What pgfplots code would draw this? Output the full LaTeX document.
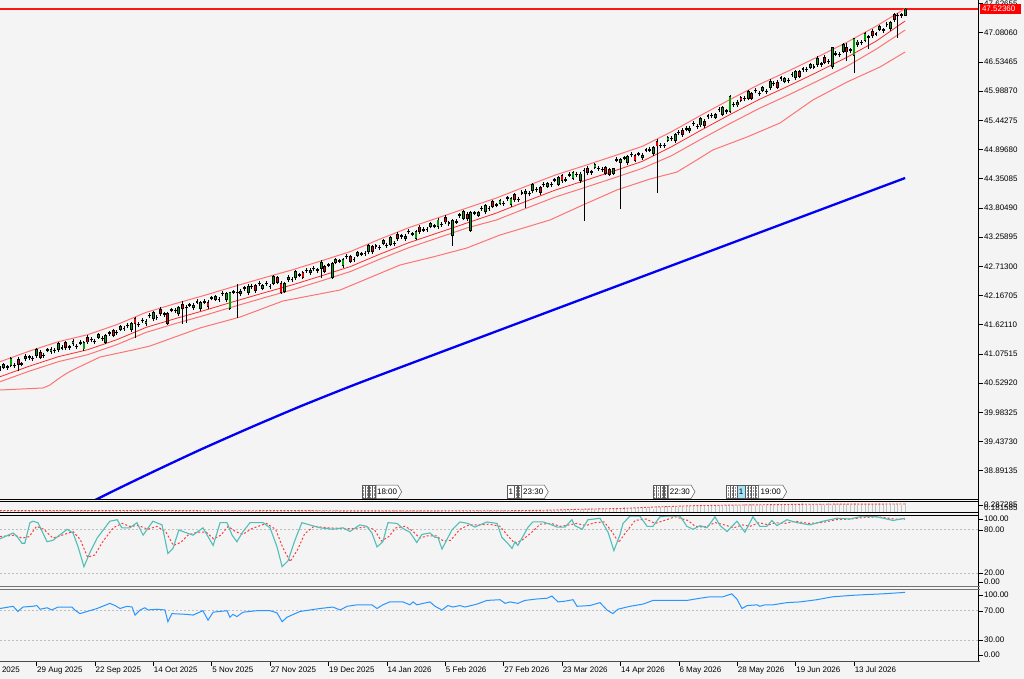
\documentclass[border=0pt]{standalone}
\usepackage{pgfplots}
\pgfplotsset{compat=1.18}
\usepackage{pgfplotstable}
\usepackage{fontspec}
\setmainfont{Liberation Sans}
\newcommand{\lbl}{\fontsize{8bp}{9bp}\selectfont}
\definecolor{bg}{RGB}{244,244,244}
\definecolor{cgreen}{RGB}{0,160,0}
\definecolor{cred}{RGB}{230,0,0}
\definecolor{band}{RGB}{255,40,40}
\definecolor{bandl}{RGB}{255,115,115}
\definecolor{mablue}{RGB}{0,0,245}
\definecolor{stkc}{RGB}{80,190,185}
\definecolor{sigc}{RGB}{255,60,60}
\definecolor{rsic}{RGB}{40,150,255}
\definecolor{lev}{RGB}{190,190,190}
\definecolor{hist}{RGB}{195,195,195}
\definecolor{pricered}{RGB}{255,20,20}

\pgfplotstableread{
i o h l c a
0 40.793 40.843 40.753 40.803 .190
1 40.828 40.913 40.793 40.878 .196
2 40.822 40.872 40.782 40.832 .186
3 40.862 41.012 40.822 40.982 .198
4 40.851 40.901 40.811 40.861 .183
5 40.976 41.011 40.760 40.886 .193
6 40.881 40.931 40.841 40.891 .188
7 40.985 41.070 40.950 41.035 .190
8 41.010 41.060 40.970 41.020 .196
9 40.984 41.034 40.944 40.994 .186
10 41.044 41.194 41.004 41.164 .198
11 41.104 41.139 40.979 41.014 .183
12 41.038 41.088 40.998 41.048 .193
13 41.143 41.193 41.103 41.153 .188
14 41.115 41.200 41.080 41.165 .190
15 41.131 41.181 41.091 41.141 .196
16 41.153 41.303 41.113 41.273 .186
17 41.184 41.234 41.144 41.194 .198
18 41.280 41.315 41.155 41.190 .183
19 41.197 41.247 41.157 41.207 .193
20 41.263 41.348 41.228 41.313 .188
21 41.209 41.259 41.169 41.219 .190
22 41.276 41.326 41.236 41.286 .196
23 41.167 41.317 41.127 41.287 .186
24 41.388 41.423 41.263 41.298 .198
25 41.335 41.385 41.295 41.345 .183
26 41.301 41.351 41.261 41.311 .193
27 41.388 41.473 41.353 41.438 .188
28 41.361 41.411 41.321 41.371 .190
29 41.295 41.445 41.255 41.415 .196
30 41.459 41.509 41.419 41.469 .186
31 41.507 41.542 41.382 41.417 .198
32 41.466 41.516 41.426 41.476 .183
33 41.535 41.620 41.500 41.585 .193
34 41.543 41.593 41.503 41.553 .188
35 41.602 41.652 41.562 41.612 .190
36 41.526 41.676 41.486 41.646 .196
37 41.729 41.764 41.380 41.639 .186
38 41.618 41.668 41.578 41.628 .198
39 41.697 41.747 41.657 41.707 .183
40 41.635 41.720 41.600 41.685 .193
41 41.784 41.834 41.744 41.794 .188
42 41.729 41.879 41.689 41.849 .190
43 41.753 41.803 41.713 41.763 .196
44 41.913 41.948 41.788 41.823 .186
45 41.812 41.862 41.772 41.822 .198
46 41.830 41.860 41.620 41.650 .183
47 41.890 41.940 41.850 41.900 .193
48 41.879 41.929 41.839 41.889 .188
49 41.823 41.973 41.783 41.943 .190
50 42.007 42.070 41.640 41.917 .196
51 41.936 41.986 41.660 41.946 .186
52 41.985 42.035 41.945 41.995 .198
53 41.934 42.019 41.899 41.984 .183
54 42.044 42.094 42.004 42.054 .193
55 41.918 42.068 41.878 42.038 .188
56 42.043 42.093 42.003 42.053 .190
57 42.044 42.079 41.919 41.954 .196
58 42.114 42.164 42.074 42.124 .186
59 42.095 42.180 42.060 42.145 .198
60 42.085 42.135 42.045 42.095 .183
61 42.196 42.246 42.156 42.206 .193
62 42.091 42.241 42.051 42.211 .188
63 41.930 42.240 41.900 42.220 .190
64 42.227 42.277 42.187 42.237 .196
65 42.217 42.390 41.750 42.227 .186
66 42.198 42.283 42.163 42.248 .198
67 42.298 42.348 42.258 42.308 .183
68 42.224 42.374 42.184 42.344 .193
69 42.329 42.379 42.289 42.339 .188
70 42.348 42.383 42.223 42.258 .190
71 42.387 42.437 42.347 42.397 .196
72 42.296 42.381 42.261 42.346 .186
73 42.385 42.435 42.345 42.395 .198
74 42.334 42.384 42.294 42.344 .183
75 42.398 42.548 42.358 42.518 .193
76 42.502 42.537 42.377 42.412 .188
77 42.400 42.430 42.200 42.230 .190
78 42.240 42.420 42.220 42.390 .196
79 42.460 42.545 42.425 42.510 .186
80 42.459 42.509 42.419 42.469 .198
81 42.503 42.653 42.463 42.623 .183
82 42.547 42.597 42.507 42.557 .193
83 42.598 42.633 42.473 42.508 .188
84 42.630 42.680 42.590 42.640 .190
85 42.592 42.677 42.557 42.642 .196
86 42.664 42.714 42.624 42.674 .186
87 42.636 42.686 42.596 42.646 .198
88 42.673 42.823 42.500 42.793 .183
89 42.709 42.744 42.584 42.619 .193
90 42.731 42.781 42.691 42.741 .188
91 42.500 42.790 42.470 42.760 .190
92 42.785 42.870 42.750 42.835 .196
93 42.807 42.857 42.767 42.817 .186
94 42.723 42.873 42.683 42.843 .198
95 42.890 42.940 42.850 42.900 .183
96 42.893 42.928 42.768 42.803 .193
97 42.832 42.882 42.792 42.842 .188
98 42.920 43.005 42.885 42.970 .190
99 42.939 42.989 42.899 42.949 .196
100 42.948 42.998 42.908 42.958 .186
101 42.982 43.132 42.942 43.102 .198
102 43.075 43.110 42.950 42.985 .183
103 43.084 43.134 43.044 43.094 .193
104 43.063 43.113 43.023 43.073 .188
105 43.141 43.226 43.106 43.191 .190
106 43.100 43.150 43.060 43.110 .196
107 43.124 43.274 43.084 43.244 .186
108 43.137 43.187 43.097 43.147 .198
109 43.316 43.351 43.191 43.226 .183
110 43.272 43.322 43.232 43.282 .193
111 43.225 43.310 43.190 43.275 .188
112 43.359 43.409 43.319 43.369 .190
113 43.312 43.362 43.272 43.322 .196
114 43.240 43.390 43.200 43.360 .186
115 43.448 43.483 43.323 43.358 .198
116 43.391 43.441 43.351 43.401 .183
117 43.395 43.445 43.355 43.405 .193
118 43.458 43.543 43.423 43.508 .188
119 43.461 43.511 43.421 43.471 .190
120 43.459 43.609 43.419 43.579 .196
121 43.487 43.537 43.447 43.497 .186
122 43.631 43.666 43.506 43.541 .198
123 43.514 43.564 43.474 43.524 .183
124 43.290 43.600 43.100 43.570 .193
125 43.540 43.590 43.500 43.550 .188
126 43.663 43.713 43.623 43.673 .190
127 43.611 43.761 43.571 43.731 .196
128 43.689 43.724 43.564 43.599 .186
129 43.380 43.740 43.360 43.720 .198
130 43.706 43.756 43.666 43.716 .183
131 43.669 43.754 43.634 43.719 .193
132 43.792 43.842 43.752 43.802 .188
133 43.730 43.880 43.690 43.850 .190
134 43.788 43.838 43.748 43.798 .196
135 43.921 43.956 43.796 43.831 .186
136 43.854 43.904 43.814 43.864 .198
137 43.888 43.973 43.853 43.938 .183
138 43.885 43.935 43.845 43.895 .193
139 43.983 44.033 43.943 43.993 .188
140 43.865 44.015 43.825 43.985 .192
141 44.047 44.082 43.922 43.957 .198
142 43.955 44.005 43.915 43.965 .188
143 44.082 44.132 44.042 44.092 .200
144 44.069 44.154 43.810 44.119 .185
145 44.066 44.116 44.026 44.076 .195
146 44.129 44.279 44.089 44.249 .190
147 44.141 44.191 44.101 44.151 .192
148 44.178 44.213 44.053 44.088 .198
149 44.236 44.286 44.196 44.246 .188
150 44.213 44.298 44.178 44.263 .205
151 44.239 44.289 44.199 44.249 .190
152 44.320 44.370 44.280 44.330 .200
153 44.247 44.397 44.207 44.367 .195
154 44.404 44.439 44.279 44.314 .197
155 44.326 44.376 44.286 44.336 .203
156 44.418 44.468 44.378 44.428 .193
157 44.350 44.490 44.330 44.460 .205
158 44.422 44.472 44.382 44.432 .190
159 44.319 44.469 44.279 44.439 .200
160 44.496 44.546 43.566 44.506 .206
161 44.548 44.583 44.423 44.458 .208
162 44.469 44.519 44.429 44.479 .214
163 44.561 44.646 44.526 44.611 .204
164 44.533 44.583 44.493 44.543 .216
165 44.516 44.566 44.476 44.526 .201
166 44.560 44.590 44.420 44.450 .211
167 44.520 44.560 44.400 44.430 .206
168 44.450 44.560 44.420 44.540 .208
169 44.698 44.748 44.658 44.708 .214
170 44.661 44.746 43.790 44.711 .215
171 44.734 44.784 44.694 44.744 .227
172 44.653 44.803 44.613 44.773 .212
173 44.801 44.851 44.761 44.811 .222
174 44.784 44.819 44.659 44.694 .217
175 44.807 44.857 44.767 44.817 .219
176 44.740 44.825 44.705 44.790 .225
177 44.883 44.933 44.843 44.893 .215
178 44.886 44.936 44.846 44.896 .227
179 44.818 44.968 44.778 44.938 .212
180 45.052 45.087 44.090 44.962 .236
181 44.970 45.020 44.930 44.980 .231
182 44.968 45.018 44.928 44.978 .233
183 45.066 45.151 45.031 45.116 .239
184 45.094 45.144 45.054 45.104 .229
185 45.058 45.208 45.018 45.178 .241
186 45.211 45.261 45.171 45.221 .226
187 45.259 45.294 45.134 45.169 .236
188 45.277 45.327 45.237 45.287 .231
189 45.245 45.330 45.210 45.295 .233
190 45.374 45.424 45.334 45.384 .248
191 45.322 45.372 45.282 45.332 .238
192 45.355 45.505 45.315 45.475 .250
193 45.427 45.462 45.302 45.337 .235
194 45.514 45.564 45.474 45.524 .245
195 45.531 45.581 45.491 45.541 .240
196 45.497 45.582 45.462 45.547 .242
197 45.644 45.694 45.604 45.654 .248
198 45.556 45.706 45.516 45.676 .238
199 45.608 45.658 45.568 45.618 .250
200 45.610 45.910 45.580 45.890 .240
201 45.732 45.782 45.692 45.742 .250
202 45.729 45.814 45.694 45.779 .245
203 45.870 45.900 45.780 45.820 .247
204 45.843 45.893 45.803 45.853 .253
205 45.854 46.004 45.814 45.974 .243
206 45.944 45.979 45.819 45.854 .255
207 45.995 46.045 45.955 46.005 .240
208 45.937 45.987 45.897 45.947 .250
209 45.998 46.083 45.963 46.048 .245
210 45.980 46.030 45.940 45.990 .251
211 46.056 46.206 46.016 46.176 .257
212 46.123 46.173 46.083 46.133 .247
213 46.154 46.189 46.029 46.064 .259
214 46.225 46.275 46.185 46.235 .244
215 46.167 46.252 46.132 46.217 .254
216 46.178 46.228 46.138 46.188 .249
217 46.290 46.340 46.250 46.300 .251
218 46.236 46.386 46.196 46.356 .257
219 46.352 46.387 46.227 46.262 .247
220 46.395 46.445 46.355 46.405 .263
221 46.389 46.439 46.349 46.399 .248
222 46.433 46.518 46.398 46.483 .258
223 46.437 46.487 46.397 46.447 .253
224 46.486 46.636 46.446 46.606 .255
225 46.486 46.536 46.446 46.496 .261
226 46.620 46.655 46.495 46.530 .251
227 46.534 46.584 46.494 46.544 .263
228 46.440 46.820 46.410 46.800 .248
229 46.682 46.732 46.642 46.692 .258
230 46.666 46.716 46.626 46.676 .253
231 46.735 46.885 46.695 46.855 .255
232 46.800 46.880 46.560 46.720 .261
233 46.749 46.799 46.709 46.759 .251
234 46.650 46.990 46.330 46.970 .263
235 46.857 46.942 46.822 46.907 .248
236 46.895 46.945 46.855 46.905 .258
237 46.939 47.089 46.899 47.059 .253
238 46.993 47.043 46.780 47.003 .255
239 47.112 47.147 46.987 47.022 .261
240 47.051 47.101 47.011 47.061 .251
241 47.139 47.224 47.104 47.189 .263
242 47.122 47.172 47.082 47.132 .248
243 47.226 47.276 47.186 47.236 .258
244 47.155 47.305 47.115 47.275 .253
245 47.414 47.449 47.289 47.324 .255
246 47.399 47.449 46.990 47.409 .261
247 47.403 47.453 47.363 47.413 .251
248 47.410 47.545 47.390 47.524 .263
}\candles

\pgfplotstableread{
i u a b
0 40.929 40.648 40.555
8 41.126 40.845 40.752
16 41.304 41.023 40.930
24 41.434 41.153 41.060
32 41.622 41.341 41.248
40 41.851 41.570 41.477
48 42.015 41.734 41.641
56 42.169 41.888 41.795
64 42.333 42.052 41.959
72 42.492 42.211 42.118
80 42.645 42.364 42.271
88 42.814 42.533 42.440
96 42.989 42.708 42.615
104 43.219 42.938 42.845
112 43.435 43.154 43.061
120 43.620 43.339 43.246
128 43.805 43.524 43.431
136 43.990 43.709 43.579
144 44.205 43.924 43.794
152 44.416 44.135 44.005
160 44.592 44.311 44.181
168 44.771 44.490 44.360
176 44.956 44.675 44.545
184 45.230 44.949 44.781
192 45.536 45.255 45.087
200 45.831 45.550 45.382
208 46.113 45.832 45.664
216 46.364 46.083 45.915
224 46.627 46.346 46.178
232 46.900 46.619 46.451
240 47.200 46.920 46.770
248 47.530 47.300 47.130
}\bandt

\pgfplotstableread{
i v
0 40.400
11.8 40.438
13.7 40.494
15.9 40.606
18.4 40.718
21.1 40.812
27.4 41.017
36.4 41.148
41.1 41.223
54.8 41.560
65.8 41.765
77.5 42.064
93.2 42.270
109.6 42.737
118.6 42.887
127.9 43.055
137.0 43.298
150.7 43.579
159.7 43.859
169.0 44.140
178.1 44.345
185.5 44.476
191.8 44.738
195.3 44.888
204.7 45.131
213.7 45.392
222.7 45.822
232.1 46.159
241.1 46.439
248.0 46.720
}\lowt

\pgfplotstableread{
i v
0 37.416
26.5 38.357
41.1 38.843
54.8 39.281
68.5 39.695
82.2 40.092
95.9 40.466
109.6 40.821
173.4 42.455
248.0 44.364
}\bluet

\pgfplotstableread{
i v
0 67
3.6 75
4.7 70
6.0 61
6.8 61
8.2 89
9.0 91
10.4 89
12.9 63
14.5 65
18.4 80
20.0 75
21.4 56
23.0 29
24.7 49
26.6 68
30.1 91
32.1 93
33.4 82
35.6 82
37.5 89
39.2 72
41.9 91
44.4 86
46.0 47
47.4 54
49.0 79
51.2 75
52.9 72
55.6 82
57.0 70
58.4 58
60.3 89
62.2 89
63.6 72
64.9 63
66.6 77
68.5 89
72.1 89
74.0 82
75.9 56
77.3 29
78.9 37
80.8 65
82.7 89
87.7 82
91.2 80
94.0 82
95.9 77
98.6 86
100.5 84
101.9 75
103.3 56
104.9 63
106.3 89
108.8 88
110.4 81
112.3 76
114.2 62
115.6 73
117.8 75
119.2 69
120.0 69
121.1 53
123.8 79
126.0 90
128.2 88
130.1 83
133.4 90
136.2 88
137.5 69
138.9 62
140.3 54
141.1 63
141.9 58
144.7 83
146.0 90
148.8 90
150.7 87
152.6 83
154.8 83
156.7 93
157.5 85
159.5 80
161.1 93
164.4 95
166.6 76
168.2 51
169.9 73
170.7 88
172.6 98
175.3 98
177.3 84
178.9 84
180.8 97
182.7 98
186.3 98
188.2 84
189.9 80
191.8 85
193.7 82
195.9 97
197.3 85
199.2 77
201.9 91
204.1 76
206.3 97
208.2 84
210.1 84
211.5 92
212.9 85
215.6 93
218.4 89
221.9 86
225.5 91
229.3 95
232.9 94
236.4 98
240.3 97
244.7 92
247.9 95
}\stkt

\pgfplotstableread{
i v
0 70
4 72
6 68
8 70
10 84
12 80
14.5 68
17 72
20 77
22 66
24 42
26 45
28 62
31 82
33.5 88
35.5 84
38 85
40.5 80
43 84
45.5 76
47.5 58
49.5 62
51.5 72
54 76
56.5 76
58.5 67
60.5 72
62.5 84
64.5 77
66.5 73
69 81
73 88
75.5 80
77.5 55
79.5 36
81.5 52
83.5 74
86 84
90 82
94 81
97 81
100 83
102.5 80
104.5 64
106.5 70
108.5 82
111 84
113 78
115 68
117 71
119.5 71
121.5 64
123.5 65
126 80
128.5 86
131 86
134 87
137 84
139 72
141 61
143 65
145.5 75
148 87
151 88
153.5 84
156 86
158 88
160.5 85
163 89
165.5 90
167.5 78
169.5 62
171.5 76
174 92
177 94
179.5 88
182 92
185 97
188.5 92
190.5 84
193 83
196 89
198.5 86
201 82
203.5 86
205.5 84
208 89
210.5 86
212.5 89
215 88
218 91
221.5 88
225 89
229 93
233 94
236.5 96
240.5 97
245 94
248 94
}\stdt

\pgfplotstableread{
i v
0 73
3.6 76
4.9 69
6.3 75
9.0 76
10.1 77
11.0 72
12.9 74
14.2 71
15.9 75
19.7 75
20.5 71
21.9 66
26.6 73
30.1 80
31.5 77
32.9 73
34.8 76
36.2 75
37.0 64
38.4 71
39.7 74
40.5 71
43.0 72
45.2 71
46.0 55
47.1 66
51.2 65
52.9 64
55.6 70
57.0 57
58.4 68
62.2 70
63.0 61
63.8 65
64.9 62
66.6 68
70.4 70
74.0 70
75.9 67
77.3 55
78.6 61
82.2 69
87.7 73
91.2 75
93.2 71
95.1 76
97.8 78
101.9 78
103.3 73
104.9 78
106.8 82
110.4 82
112.3 78
113.2 82
114.2 78
117.8 82
119.2 76
121.1 71
122.7 77
124.1 75
126.0 77
127.4 75
130.7 79
133.4 84
137.0 85
138.4 80
139.7 82
141.9 80
143.8 84
147.1 86
149.9 87
151.2 90
152.9 82
154.8 83
157.0 85
158.1 76
161.6 77
164.4 81
166.3 71
167.9 66
169.3 72
172.6 76
176.2 79
178.9 84
182.7 84
188.2 84
191.8 87
194.5 89
198.1 89
200.5 93
201.9 86
203.3 73
204.7 77
207.4 78
208.2 76
209.6 78
211.8 78
215.6 81
219.2 82
223.8 85
228.2 89
233.7 91
237.5 92
241.9 93
248.0 95
}\rsit

\pgfplotstableread{
i v
0 .192
20 .190
40 .193
60 .189
80 .191
100 .188
120 .189
140 .190
150 .195
160 .205
170 .212
180 .228
190 .240
200 .246
210 .250
220 .254
235 .256
248 .257
}\atrt

\pgfplotstableread{
i v
0 47.5236
268.1 47.5236
}\pricet

\pgfplotsset{panel/.style={anchor=north west, scale only axis, width=978.5bp,
  xmin=0, xmax=268.1, axis line style={draw=none}, xtick=\empty,
  ytick pos=right, tick align=outside, major tick length=4bp,
  tick style={black, line width=0.6bp},
  yticklabel style={font=\lbl, anchor=west, inner sep=0pt, xshift=1.5bp},
  /pgf/number format/assume math mode=true}}

\begin{document}
\begin{tikzpicture}
\useasboundingbox (0,0) rectangle (1024bp,-679bp);
\fill[bg] (0,0) rectangle (1024bp,-679bp);

% main price panel
\begin{axis}[panel, at={(0bp,0bp)}, height=499.3bp, ymin=38.3566, ymax=47.692,
  ytick={47.62655,47.08060,46.53465,45.98870,45.44275,44.89680,44.35085,43.80490,43.25895,42.71300,42.16705,41.62110,41.07515,40.52920,39.98325,39.43730,38.89135},
  yticklabels={47.62655,47.08060,46.53465,45.98870,45.44275,44.89680,44.35085,43.80490,43.25895,42.71300,42.16705,41.62110,41.07515,40.52920,39.98325,39.43730,38.89135}]
\addplot[pricered, line width=1.1bp, mark=none] table[x=i,y=v]{\pricet};
\addplot[mablue, line width=2.3bp, smooth, tension=0.4] table[x=i,y=v]{\bluet};
\addplot[bandl, line width=1bp] table[x=i,y=v]{\lowt};
\addplot[bandl, line width=1bp] table[x=i,y=b]{\bandt};
\addplot[band, line width=0.8bp] table[x=i,y=a]{\bandt};
\addplot[bandl, line width=1bp] table[x=i,y=u]{\bandt};
\addplot[draw=none, mark=none, error bars/.cd, y dir=plus, y explicit, error mark=none,
  error bar style={draw=black, line width=0.9bp}]
  table[x=i, y=l, y error expr=\thisrow{h}-\thisrow{l}]{\candles};
\addplot[draw=none, mark=none, error bars/.cd, y dir=plus, y explicit, error mark=none,
  error bar style={draw=black, line width=2.8bp}]
  table[x=i, y expr={min(\thisrow{o},\thisrow{c})-0.009}, y error expr={abs(\thisrow{c}-\thisrow{o})+0.018}]{\candles};
\addplot[draw=none, mark=none, restrict expr to domain={\thisrow{c}-\thisrow{o}}{0.03:10},
  error bars/.cd, y dir=plus, y explicit, error mark=none,
  error bar style={draw=cgreen, line width=1.2bp}]
  table[x=i, y expr={\thisrow{o}+0.009}, y error expr={\thisrow{c}-\thisrow{o}-0.018}]{\candles};
\addplot[draw=none, mark=none, restrict expr to domain={\thisrow{o}-\thisrow{c}}{0.03:10},
  error bars/.cd, y dir=plus, y explicit, error mark=none,
  error bar style={draw=cred, line width=1.2bp}]
  table[x=i, y expr={\thisrow{c}+0.009}, y error expr={\thisrow{o}-\thisrow{c}-0.018}]{\candles};
\end{axis}

% small histogram panel
\begin{axis}[panel, at={(0bp,-501.7bp)}, height=11bp, ymin=0.17, ymax=0.28, ytick=\empty]
\addplot[draw=none, mark=none, error bars/.cd, y dir=plus, y explicit, error mark=none,
  error bar style={draw=hist, line width=1bp}]
  table[x=i, y expr=0.171, y error expr={\thisrow{a}-0.171}]{\candles};
\addplot[sigc, dash pattern=on 2bp off 1.5bp, line width=0.9bp] table[x=i,y=v]{\atrt};
\end{axis}

% stochastic panel
\begin{axis}[panel, at={(0bp,-514.6bp)}, height=73.4bp, ymin=0, ymax=100,
  ytick={94.0,79.0,20.4,8.2}, yticklabels={100.00,80.00,20.00,0.00}]
\addplot[lev, dash pattern=on 2bp off 2bp, line width=0.8bp] coordinates {(0,80) (268.1,80)};
\addplot[lev, dash pattern=on 2bp off 2bp, line width=0.8bp] coordinates {(0,20) (268.1,20)};
\addplot[sigc, dash pattern=on 2bp off 2bp, line width=1bp] table[x=i,y=v]{\stdt};
\addplot[stkc, line width=1.1bp] table[x=i,y=v]{\stkt};
\end{axis}

% RSI panel
\begin{axis}[panel, at={(0bp,-588.7bp)}, height=73.3bp, ymin=0, ymax=100,
  ytick={91.4,69.6,30.0,9.5}, yticklabels={100.00,70.00,30.00,0.00},
  xtick={10,26,...,234}, xtick pos=bottom,
  xticklabels={29 Aug 2025,22 Sep 2025,14 Oct 2025,5 Nov 2025,27 Nov 2025,19 Dec 2025,14 Jan 2026,5 Feb 2026,27 Feb 2026,23 Mar 2026,14 Apr 2026,6 May 2026,28 May 2026,19 Jun 2026,13 Jul 2026},
  xticklabel style={font=\lbl, anchor=north west, inner sep=0pt, xshift=0.5bp, yshift=-0.5bp}]
\addplot[lev, dash pattern=on 2bp off 2bp, line width=0.8bp] coordinates {(0,70) (268.1,70)};
\addplot[lev, dash pattern=on 2bp off 2bp, line width=0.8bp] coordinates {(0,30) (268.1,30)};
\addplot[rsic, line width=1bp] table[x=i,y=v]{\rsit};
\end{axis}

\begin{scope}[x=1bp, y=-1bp]
% frames
\draw[black, line width=0.8bp] (978.5,0) -- (978.5,662);
\draw[black, line width=0.8bp] (0,499.3) -- (978.5,499.3);
\draw[black, line width=0.8bp] (0,501.7) -- (978.5,501.7);
\draw[black, line width=0.8bp] (0,512.7) -- (978.5,512.7);
\draw[black, line width=0.8bp] (0,514.9) -- (978.5,514.9);
\draw[black!55, line width=1.1bp] (0,586.7) -- (980,586.7);
\draw[black!55, line width=1.1bp] (0,589.2) -- (980,589.2);
\draw[black!70, line width=0.9bp] (0,661.8) -- (980,661.8);
% partial first date label
\node[font=\lbl, anchor=north west, inner sep=0pt] at (-21.3,666.5) {7 Aug 2025};
% histogram panel labels
\draw[black, line width=0.6bp] (978.5,505) -- (982.5,505);
\node[font=\lbl, anchor=west, inner sep=0pt] at (984,505) {0.287285};
\node[font=\lbl, anchor=west, inner sep=0pt] at (984,507.6) {0.181585};
% current price box
\fill[red] (979.5,3.8) rectangle (1021,13.8);
\node[font=\lbl, text=white, anchor=west, inner sep=0pt] at (981.8,8.8) {47.52360};
% event markers
\tikzset{ev/.style={draw=black!65, fill=white, line width=0.5bp}}
\foreach \xx in {362,365.5,369,372.5,514.5,518,653,656.7,660.4,664.1,726.7,730.2,733.7,745.3,748.5,751.7,754.9}{
  \draw[ev] (\xx,485) rectangle ++(3.1,13.6);
  \draw[black!45, dash pattern=on 0.6bp off 0.8bp, line width=0.4bp] (\xx+1.55,487) -- (\xx+1.55,497);
}
\draw[ev] (507.7,485) rectangle (514,498.6);
\node[font=\lbl, inner sep=0pt] at (510.9,492) {1};
\draw[ev, fill=cyan!35] (737.5,485) rectangle (745,498.6);
\node[font=\lbl, inner sep=0pt] at (741.2,492) {1};
\foreach \xa/\xb/\tt in {376/401.7/18:00, 521.7/548.3/23:30, 668.3/695/22:30, 758.3/786.7/19:00}{
  \draw[ev] (\xa,485) -- (\xb-4,485) -- (\xb,491.8) -- (\xb-4,498.6) -- (\xa,498.6) -- cycle;
  \node[font=\lbl, inner sep=0pt] at ({(\xa+\xb-3.5)/2},492) {\tt};
}
\end{scope}
\end{tikzpicture}
\end{document}
